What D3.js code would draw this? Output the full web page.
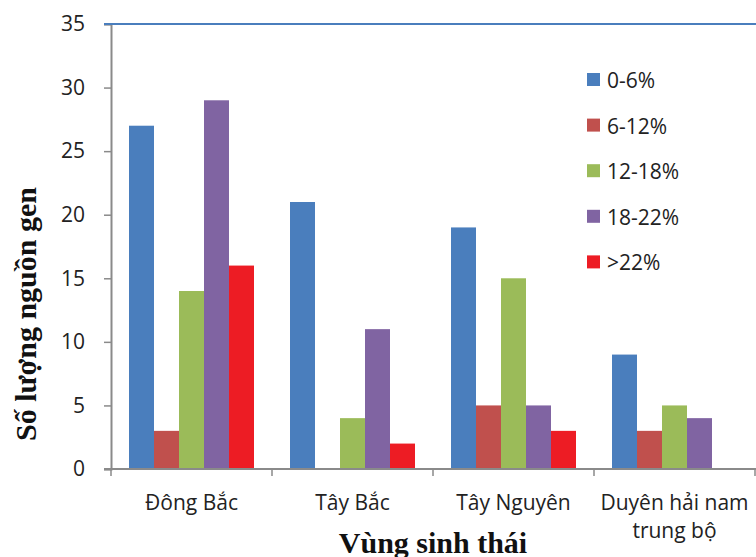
<!DOCTYPE html>
<html>
<head>
<meta charset="utf-8">
<script src="https://cdn.jsdelivr.net/npm/d3@7"></script>
<style>
  html, body { margin: 0; padding: 0; background: #fff; }
  svg { display: block; }
</style>
</head>
<body>
<svg id="chart" width="756" height="557"></svg>
<script>
// Regions (x categories) and moisture-class series
const regions = ["Đông Bắc", "Tây Bắc", "Tây Nguyên", "Duyên hải nam|trung bộ"];
const seriesNames = ["0-6%", "6-12%", "12-18%", "18-22%", ">22%"];
const seriesColors = ["#4a7ebd", "#c0504d", "#9bbb59", "#8064a2", "#ed1c24"];
const v0to6 = [27, 21, 19, 9];
const v6to12 = [3, 0, 5, 3];
const v12to18 = [14, 4, 15, 5];
const v18to22 = [29, 11, 5, 4];
const vOver22 = [16, 2, 3, 0];
const yTicks = [0, 5, 10, 15, 20, 25, 30, 35];
const seriesValues = [v0to6, v6to12, v12to18, v18to22, vOver22];

const svg = d3.select("#chart");
const margin = { left: 111, right: 1, top: 24, bottom: 88 };
const W = 756, H = 557;
const plotBottom = H - margin.bottom; // 469

const x = d3.scaleBand().domain(regions).range([margin.left, W - margin.right]).paddingInner(0).paddingOuter(0);
const inner = d3.scaleBand().domain(seriesNames).range([18, x.bandwidth() - 18]).padding(0);
const y = d3.scaleLinear().domain([0, 35]).range([plotBottom, margin.top]);

const tickFont = "'Open Sans', 'Liberation Sans', sans-serif";
const tickSize = 21;
const axisColor = "#8a8a8a";

// Bars
const g = svg.append("g");
regions.forEach((r, i) => {
  seriesNames.forEach((s, j) => {
    const val = seriesValues[j][i];
    if (val <= 0) return;
    g.append("rect")
      .attr("x", x(r) + inner(s))
      .attr("y", y(val))
      .attr("width", inner.bandwidth())
      .attr("height", y(0) - y(val))
      .attr("fill", seriesColors[j]);
  });
});

// Y axis
const yAxis = svg.append("g")
  .attr("transform", `translate(${margin.left},0)`)
  .call(d3.axisLeft(y).tickValues(yTicks).tickSize(7).tickPadding(19));
yAxis.select(".domain").attr("stroke", axisColor).attr("stroke-width", 2);
yAxis.selectAll(".tick line").attr("stroke", axisColor).attr("stroke-width", 1.5);
yAxis.selectAll(".tick text")
  .attr("fill", "#222").attr("font-family", tickFont).attr("font-size", tickSize);

// Top boundary line at the axis maximum
svg.append("line")
  .attr("x1", margin.left - 7).attr("x2", W)
  .attr("y1", y(35)).attr("y2", y(35))
  .attr("stroke", "#4a7ebd").attr("stroke-width", 2);

// X axis
const xAxis = svg.append("g")
  .attr("transform", `translate(0,${plotBottom})`);
xAxis.append("line")
  .attr("x1", margin.left - 7).attr("x2", W)
  .attr("y1", 0).attr("y2", 0)
  .attr("stroke", axisColor).attr("stroke-width", 2);
const boundaries = regions.map(r => x(r)).concat([x.range()[1]]);
xAxis.selectAll("line.tk").data(boundaries).enter().append("line")
  .attr("class", "tk")
  .attr("x1", d => d).attr("x2", d => d)
  .attr("y1", 0).attr("y2", 7)
  .attr("stroke", axisColor).attr("stroke-width", 1.5);
regions.forEach(r => {
  const lines = r.split("|");
  const cx = x(r) + x.bandwidth() / 2;
  const t = xAxis.append("text")
    .attr("x", cx)
    .attr("y", 41)
    .attr("text-anchor", "middle")
    .attr("fill", "#222")
    .attr("font-family", tickFont)
    .attr("font-size", tickSize);
  lines.forEach((ln, k) => {
    t.append("tspan").attr("x", cx).attr("dy", k === 0 ? 0 : 28).text(ln);
  });
});

// Axis titles
const titleFont = "'Liberation Serif', 'Times New Roman', serif";
svg.append("text")
  .attr("transform", `translate(36,314) rotate(-90)`)
  .attr("text-anchor", "middle")
  .attr("font-family", titleFont).attr("font-weight", "bold").attr("font-size", 30)
  .attr("fill", "#111")
  .text("Số lượng nguồn gen");
svg.append("text")
  .attr("x", 433).attr("y", 553)
  .attr("text-anchor", "middle")
  .attr("font-family", titleFont).attr("font-weight", "bold").attr("font-size", 30)
  .attr("fill", "#111")
  .text("Vùng sinh thái");

// Legend
const legend = svg.append("g").attr("transform", "translate(587,80)");
seriesNames.forEach((s, j) => {
  const row = legend.append("g").attr("transform", `translate(0,${j * 45.6})`);
  row.append("rect").attr("x", 0).attr("y", -7).attr("width", 13).attr("height", 13).attr("fill", seriesColors[j]);
  row.append("text").attr("x", 20).attr("y", 8)
    .attr("font-family", tickFont).attr("font-size", tickSize).attr("fill", "#222")
    .text(s);
});
</script>
</body>
</html>
